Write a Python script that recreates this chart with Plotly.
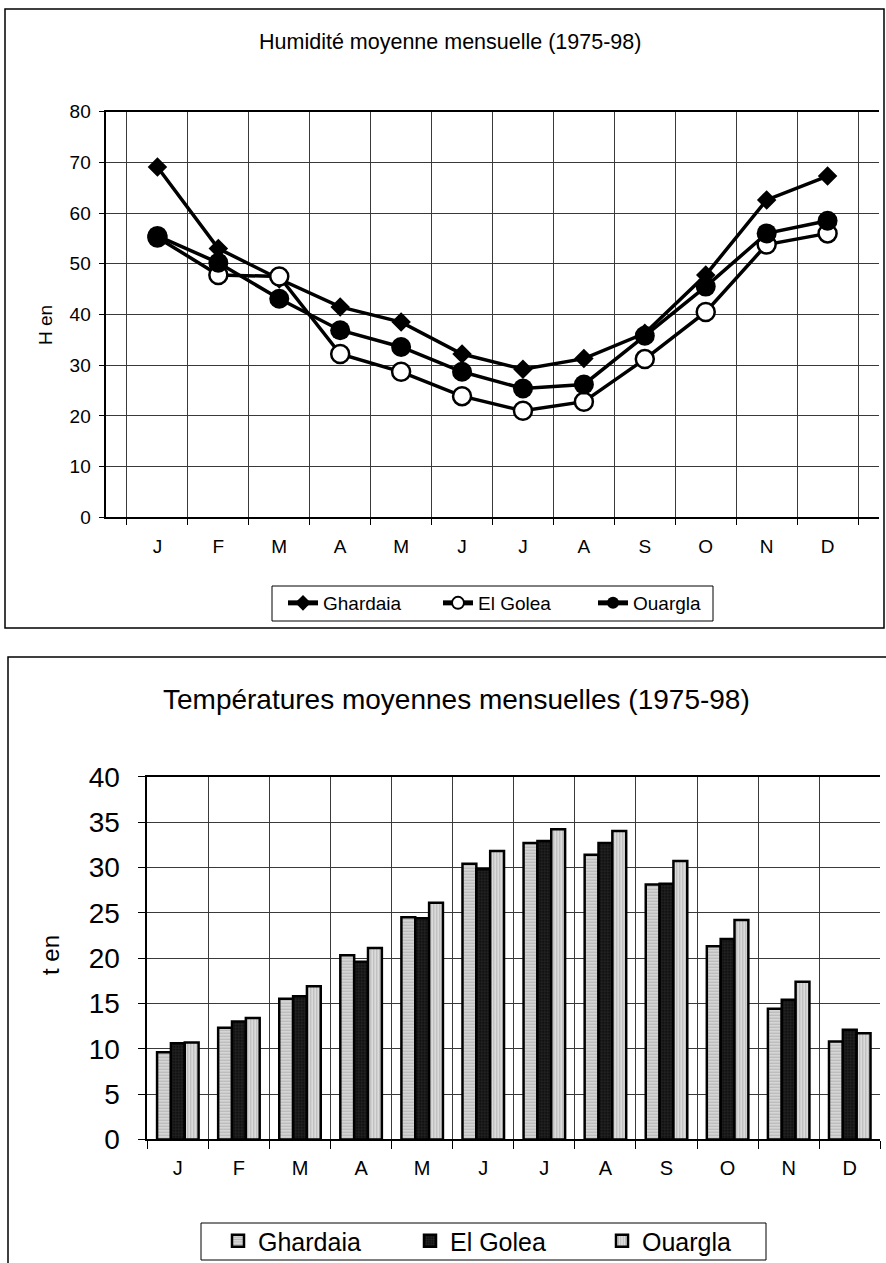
import plotly.graph_objects as go

# Month categories and the letters shown on the axis
months = ["Jan", "Fev", "Mar", "Avr", "Mai", "Jun", "Jul", "Aou", "Sep", "Oct", "Nov", "Dec"]
month_letters = ["J", "F", "M", "A", "M", "J", "J", "A", "S", "O", "N", "D"]

# Mean monthly relative humidity (%), 1975-98
hum_ghardaia = [69.1, 53.0, 47.0, 41.5, 38.5, 32.2, 29.2, 31.3, 36.3, 47.8, 62.6, 67.3]
hum_elgolea = [55.2, 47.8, 47.5, 32.2, 28.7, 23.9, 21.0, 22.8, 31.2, 40.5, 53.8, 56.0]
hum_ouargla = [55.5, 50.2, 43.1, 36.9, 33.6, 28.7, 25.4, 26.2, 35.8, 45.5, 56.0, 58.5]

# Mean monthly temperature (deg C), 1975-98
t_ghardaia = [9.6, 12.3, 15.5, 20.3, 24.5, 30.4, 32.7, 31.4, 28.1, 21.3, 14.4, 10.8]
t_elgolea = [10.6, 13.0, 15.8, 19.6, 24.4, 29.8, 32.9, 32.7, 28.2, 22.1, 15.4, 12.1]
t_ouargla = [10.7, 13.4, 16.9, 21.1, 26.1, 31.8, 34.2, 34.0, 30.7, 24.2, 17.4, 11.7]

stations = ["Ghardaia", "El Golea", "Ouargla"]

W, H = 886, 1263
FONT = "Liberation Sans, Arial, sans-serif"


def px(x):
    return x / W


def py(y):
    return 1 - y / H


fig = go.Figure()

# ---- humidity lines ----
line_specs = [
    (hum_ghardaia, dict(symbol="diamond", size=15, color="black", line=dict(color="black", width=0))),
    (hum_elgolea, dict(symbol="circle", size=18, color="white", line=dict(color="black", width=2.5))),
    (hum_ouargla, dict(symbol="circle", size=20, color="black", line=dict(color="black", width=0))),
]
for name, (vals, mk) in zip(stations, line_specs):
    fig.add_trace(go.Scatter(
        x=months, y=vals, name=name, mode="lines+markers",
        line=dict(color="black", width=3.5), marker=mk,
        xaxis="x", yaxis="y", legend="legend",
    ))

# ---- temperature bars ----
bar_styles = [
    dict(shape="-", bgcolor="#dcdcdc", fgcolor="#8a8a8a", size=3, solidity=0.45),
    dict(shape="+", bgcolor="#111111", fgcolor="#4a4a4a", size=3, solidity=0.3),
    dict(shape="|", bgcolor="#e2e2e2", fgcolor="#8a8a8a", size=3, solidity=0.45),
]
for name, vals, pat in zip(stations, [t_ghardaia, t_elgolea, t_ouargla], bar_styles):
    fig.add_trace(go.Bar(
        x=months, y=vals, name=name,
        marker=dict(color=pat["bgcolor"], pattern=pat, line=dict(color="black", width=2.5)),
        xaxis="x2", yaxis="y2", legend="legend2",
    ))

grid = "#3a3a3a"
xcommon = dict(
    type="category", tickmode="array", tickvals=months, ticktext=month_letters,
    tickson="boundaries", ticks="outside", tickcolor="black", tickwidth=1,
    showgrid=True, gridcolor=grid, gridwidth=1,
    showline=True, linecolor="black", linewidth=1.5, mirror=True,
    fixedrange=True,
)

fig.update_layout(
    width=W, height=H,
    margin=dict(l=0, r=0, t=0, b=0, autoexpand=False),
    paper_bgcolor="white", plot_bgcolor="white",
    font=dict(family=FONT, color="black"),
    barmode="group", bargap=0.32, bargroupgap=0,
    xaxis=dict(**xcommon, domain=[px(106.3), px(878.7)], anchor="y", ticklen=6,
               tickfont=dict(size=19), ticklabelstandoff=11),
    yaxis=dict(domain=[py(517.3), py(111.7)], anchor="x", range=[0, 80], dtick=10,
               ticks="outside", ticklen=6, tickcolor="black", tickfont=dict(size=19),
               showgrid=True, gridcolor=grid, gridwidth=1, zeroline=False,
               showline=True, linecolor="black", linewidth=1.5, ticklabelstandoff=4),
    xaxis2=dict(**xcommon, domain=[px(147.3), px(880.3)], anchor="y2", ticklen=8,
                tickfont=dict(size=20), ticklabelstandoff=10),
    yaxis2=dict(domain=[py(1139.4), py(776.7)], anchor="x2", range=[0, 40], dtick=5,
                ticks="outside", ticklen=8, tickcolor="black", tickfont=dict(size=28),
                showgrid=True, gridcolor=grid, gridwidth=1, zeroline=False,
                showline=True, linecolor="black", linewidth=1.5, ticklabelstandoff=12),
    legend=dict(orientation="h", x=px(283), y=py(603), xanchor="left", yanchor="middle",
                borderwidth=0, bgcolor="rgba(0,0,0,0)",
                font=dict(size=19), itemsizing="constant", tracegroupgap=0,
                entrywidth=110),
    legend2=dict(orientation="h", x=px(218), y=py(1241), xanchor="left", yanchor="middle",
                 borderwidth=0, bgcolor="rgba(0,0,0,0)",
                 font=dict(size=25), entrywidth=147, tracegroupgap=0),
    showlegend=True,
    annotations=[
        dict(text="Humidité moyenne mensuelle (1975-98)", x=px(450), y=py(42),
             xref="paper", yref="paper", showarrow=False, font=dict(size=21.5),
             xanchor="center", yanchor="middle"),
        dict(text="H en", x=px(45), y=py(325), xref="paper", yref="paper",
             showarrow=False, textangle=-90, font=dict(size=19),
             xanchor="center", yanchor="middle"),
        dict(text="Températures moyennes mensuelles (1975-98)", x=px(456), y=py(699),
             xref="paper", yref="paper", showarrow=False, font=dict(size=28),
             xanchor="center", yanchor="middle"),
        dict(text="t en", x=px(50), y=py(955), xref="paper", yref="paper",
             showarrow=False, textangle=-90, font=dict(size=24),
             xanchor="center", yanchor="middle"),
    ],
    shapes=[
        # chart frames
        dict(type="rect", xref="paper", yref="paper",
             x0=px(5), x1=px(884), y0=py(628), y1=py(9),
             line=dict(color="black", width=1.5), layer="below"),
        dict(type="rect", xref="paper", yref="paper",
             x0=px(8), x1=px(900), y0=py(1280), y1=py(657),
             line=dict(color="black", width=1.5), layer="below"),
        # legend boxes
        dict(type="rect", xref="paper", yref="paper",
             x0=px(272), x1=px(713), y0=py(621), y1=py(586),
             line=dict(color="black", width=1), fillcolor="white", layer="below"),
        dict(type="rect", xref="paper", yref="paper",
             x0=px(201), x1=px(766), y0=py(1260), y1=py(1223),
             line=dict(color="black", width=1), fillcolor="white", layer="below"),
    ],
)

fig.write_html("out.html")
